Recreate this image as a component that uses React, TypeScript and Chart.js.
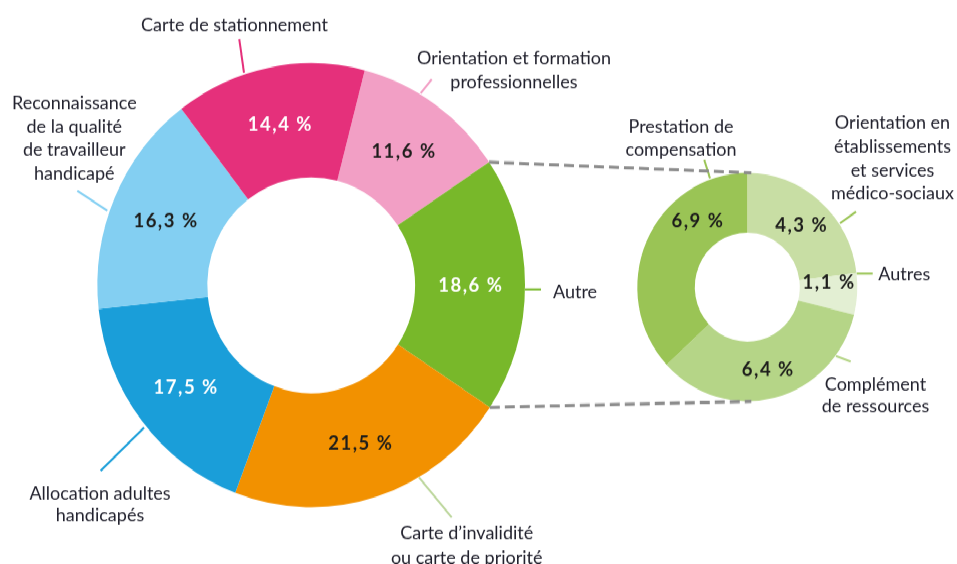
import React, { useEffect, useRef } from "react";
import { Chart, registerables } from "chart.js";

Chart.register(...registerables);

// ---------- data ----------
const mainCategories = [
  "Orientation et formation professionnelles",
  "Autre",
  "Carte d’invalidité ou carte de priorité",
  "Allocation adultes handicapés",
  "Reconnaissance de la qualité de travailleur handicapé",
  "Carte de stationnement",
];
const mainValues = [11.6, 18.6, 21.5, 17.5, 16.3, 14.4];

const detailCategories = [
  "Orientation en établissements et services médico-sociaux",
  "Autres",
  "Complément de ressources",
  "Prestation de compensation",
];
const detailValues = [4.3, 1.1, 6.4, 6.9];

// ---------- styles ----------
const mainColors = ["#F29FC5", "#78B82A", "#F29100", "#1A9ED9", "#83CFF2", "#E5307B"];
const mainValueTextColors = ["#1d1d1b", "#ffffff", "#1d1d1b", "#ffffff", "#1d1d1b", "#ffffff"];
const detailColors = ["#C8DEA4", "#E3EFD3", "#B5D587", "#9AC455"];
const detailValueTextColors = ["#1d1d1b", "#1d1d1b", "#1d1d1b", "#1d1d1b"];
const detailAngleOverrides: (number | null)[] = [null, 86, null, -38];

const W = 957;
const H = 543;
const S = 564 / H; // vertical stretch of the picture
const FONT = "Lato, 'Liberation Sans', sans-serif";
const TEXT_COLOR = "#22222e";

// label layout in page coordinates: x centre, baselines, leader line
type Ann = { lines: string[]; x: number; ys: number[]; leader: number[]; color: string };
const mainAnnotations: Ann[] = [
  { lines: ["Orientation et formation", "professionnelles"], x: 514, ys: [64, 88.3], leader: [420.7, 93.3, 431.7, 79.3], color: "#F29FC5" },
  { lines: ["Autre"], x: 575, ys: [298.5], leader: [525, 289.5, 541, 289.5], color: "#78B82A" },
  { lines: ["Carte d’invalidité", "ou carte de priorité"], x: 466.7, ys: [539.3, 563.6], leader: [419, 477.3, 451.7, 517.3], color: "#BCD69C" },
  { lines: ["Allocation adultes", "handicapés"], x: 100, ys: [499.3, 521.7], leader: [144, 427.7, 100.7, 470.7], color: "#1A9ED9" },
  { lines: ["Reconnaissance", "de la qualité", "de travailleur", "handicapé"], x: 74.3, ys: [109.3, 133, 156, 179.3], leader: [107.3, 210.7, 77.3, 190.7], color: "#83CFF2" },
  { lines: ["Carte de stationnement"], x: 234.5, ys: [30.7], leader: [244, 72.7, 239.3, 39.3], color: "#E5307B" },
];
const detailAnnotations: Ann[] = [
  { lines: ["Orientation en", "établissements", "et services", "médico-sociaux"], x: 892.5, ys: [129.3, 153, 176.5, 199.5], leader: [840, 223.3, 856, 211.7], color: "#9AC455" },
  { lines: ["Autres"], x: 904.3, ys: [280], leader: [856.7, 273.5, 872.7, 273.5], color: "#9AC455" },
  { lines: ["Complément", "de ressources"], x: 875.5, ys: [390.7, 412], leader: [836, 356, 850.7, 361.7], color: "#B5D587" },
  { lines: ["Prestation de", "compensation"], x: 681, ys: [133.3, 155.5], leader: [710, 178.3, 704.3, 160], color: "#9AC455" },
];

const fmt = (v: number) => v.toFixed(1).replace(".", ",") + " %";

function makeLabelPlugin(
  id: string,
  values: number[],
  textColors: string[],
  angleOverrides: (number | null)[],
  anns: Ann[]
) {
  return {
    id,
    afterDatasetsDraw(chart: any) {
      const ctx = chart.ctx as any;
      const meta = chart.getDatasetMeta(0);
      ctx.save();
      // value labels
      ctx.font = `bold 18.5px ${FONT}`;
      ctx.letterSpacing = "1.5px";
      ctx.textAlign = "center";
      ctx.textBaseline = "middle";
      meta.data.forEach((arc: any, i: number) => {
        const p = arc.getProps(["x", "y", "startAngle", "endAngle", "innerRadius", "outerRadius"], true);
        let a = (p.startAngle + p.endAngle) / 2;
        const ov = angleOverrides[i];
        if (ov !== null && ov !== undefined) a = (ov * Math.PI) / 180 - Math.PI / 2;
        const r = (p.innerRadius + p.outerRadius) / 2;
        ctx.fillStyle = textColors[i];
        ctx.fillText(fmt(values[i]), p.x + r * Math.cos(a) + 0.75, p.y + r * Math.sin(a) + 1);
      });
      // category labels + leaders
      ctx.letterSpacing = "0px";
      ctx.font = `18px ${FONT}`;
      ctx.textBaseline = "alphabetic";
      anns.forEach((an) => {
        ctx.strokeStyle = an.color;
        ctx.lineWidth = 2;
        ctx.setLineDash([]);
        ctx.beginPath();
        ctx.moveTo(an.leader[0], an.leader[1] / S);
        ctx.lineTo(an.leader[2], an.leader[3] / S);
        ctx.stroke();
        ctx.fillStyle = TEXT_COLOR;
        an.lines.forEach((t, k) => ctx.fillText(t, an.x, an.ys[k] / S));
      });
      ctx.restore();
    },
  };
}

export default function App() {
  const mainRef = useRef<HTMLCanvasElement | null>(null);
  const detailRef = useRef<HTMLCanvasElement | null>(null);

  useEffect(() => {
    document.body.style.margin = "0";
    const mainR = 213.8;
    const mcx = 311.2;
    const mcy = 285.3 / S;
    const main = new Chart(mainRef.current!, {
      type: "doughnut",
      data: {
        labels: mainCategories,
        datasets: [{ data: mainValues, backgroundColor: mainColors, borderWidth: 0, hoverOffset: 0, offset: 0 }],
      },
      options: {
        responsive: false,
        maintainAspectRatio: false,
        animation: false,
        events: [],
        rotation: 14.5,
        cutout: "48.6%",
        layout: {
          padding: { left: mcx - mainR, right: W - mcx - mainR, top: mcy - mainR, bottom: H - mcy - mainR },
        },
        plugins: { legend: { display: false }, tooltip: { enabled: false } },
      },
      plugins: [makeLabelPlugin("mainLabels", mainValues, mainValueTextColors, [], mainAnnotations)],
    });

    const dR = 110;
    const dcx = 747.3;
    const dcy = 287.2 / S;
    const connector = {
      id: "connector",
      afterDraw(chart: any) {
        const ctx = chart.ctx as CanvasRenderingContext2D;
        const green = main.getDatasetMeta(0).data[1] as any;
        const g = green.getProps(["x", "y", "startAngle", "endAngle", "outerRadius"], true);
        const d = chart.getDatasetMeta(0).data[0] as any;
        const q = d.getProps(["x", "y", "outerRadius"], true);
        ctx.save();
        ctx.strokeStyle = "#8C8C8C";
        ctx.lineWidth = 3;
        ctx.setLineDash([10, 5]);
        ctx.beginPath();
        ctx.moveTo(g.x + g.outerRadius * Math.cos(g.startAngle), g.y + g.outerRadius * Math.sin(g.startAngle));
        ctx.lineTo(q.x + 4, q.y - q.outerRadius);
        ctx.moveTo(g.x + g.outerRadius * Math.cos(g.endAngle), g.y + g.outerRadius * Math.sin(g.endAngle));
        ctx.lineTo(q.x + 4, q.y + q.outerRadius);
        ctx.stroke();
        ctx.restore();
      },
    };
    const detail = new Chart(detailRef.current!, {
      type: "doughnut",
      data: {
        labels: detailCategories,
        datasets: [{ data: detailValues, backgroundColor: detailColors, borderWidth: 0, hoverOffset: 0, offset: 0 }],
      },
      options: {
        responsive: false,
        maintainAspectRatio: false,
        animation: false,
        events: [],
        rotation: 0,
        cutout: "47.7%",
        layout: {
          padding: { left: dcx - dR, right: W - dcx - dR, top: dcy - dR, bottom: H - dcy - dR },
        },
        plugins: { legend: { display: false }, tooltip: { enabled: false } },
      },
      plugins: [makeLabelPlugin("detailLabels", detailValues, detailValueTextColors, detailAngleOverrides, detailAnnotations), connector],
    });

    return () => {
      detail.destroy();
      main.destroy();
    };
  }, []);

  return (
    <div
      style={{
        position: "absolute",
        left: 0,
        top: 0,
        width: W,
        height: H,
        transform: `scaleY(${S})`,
        transformOrigin: "0 0",
        background: "#ffffff",
      }}
    >
      <canvas ref={mainRef} width={W} height={H} style={{ position: "absolute", left: 0, top: 0 }} />
      <canvas ref={detailRef} width={W} height={H} style={{ position: "absolute", left: 0, top: 0 }} />
    </div>
  );
}
